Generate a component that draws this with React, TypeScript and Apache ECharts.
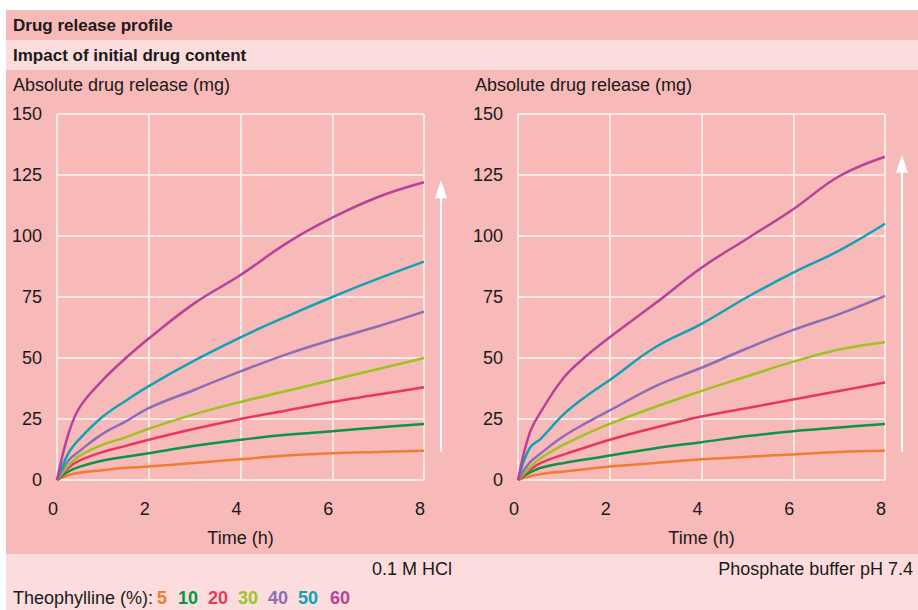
import React, { useEffect, useRef } from "react";
import * as echarts from "echarts";

const TIMES = [0, 0.25, 0.5, 1, 1.5, 2, 3, 4, 5, 6, 7, 8];
const CONTENTS = ["5", "10", "20", "30", "40", "50", "60"];
const COLORS = ["#f07b32", "#0b9447", "#e8375b", "#9dc41e", "#8d6db5", "#11a2b5", "#b7429a"];

// 0.1 M HCl
const HCL_5 = [0, 2, 3, 4, 5, 5.5, 7, 8.5, 10, 11, 11.5, 12];
const HCL_10 = [0, 3.5, 5.5, 8, 9.5, 11, 14, 16.5, 18.5, 20, 21.5, 23];
const HCL_20 = [0, 5, 8, 11.5, 14, 16.5, 21, 25, 28.5, 32, 35, 38];
const HCL_30 = [0, 6, 10, 14.5, 17.5, 21, 27, 32, 36.5, 41, 45.5, 50];
const HCL_40 = [0, 8, 12, 19, 24, 29.5, 37, 44.5, 51.5, 57.5, 63, 69];
const HCL_50 = [0, 11, 17, 26, 32.5, 38.5, 49, 58.5, 67, 75, 82.5, 89.5];
const HCL_60 = [0, 19, 30, 41, 50, 58, 72.5, 84, 97, 107.5, 116, 122];

// Phosphate buffer pH 7.4
const PBS_5 = [0, 1.5, 2.5, 3.5, 4.5, 5.5, 7, 8.5, 9.5, 10.5, 11.5, 12];
const PBS_10 = [0, 3, 5, 7, 8.5, 10, 13, 15.5, 18, 20, 21.5, 23];
const PBS_20 = [0, 4, 7, 10.5, 13.5, 16.5, 21.5, 26, 29.5, 33, 36.5, 40];
const PBS_30 = [0, 5, 9, 14.5, 19, 23, 30, 36.5, 42.5, 48.5, 53.5, 56.5];
const PBS_40 = [0, 7, 11, 18, 23.5, 28.5, 38.5, 46, 54, 61.5, 68, 75.5];
const PBS_50 = [0, 13, 17, 27, 34.5, 41, 54.5, 64, 75, 85, 94, 105];
const PBS_60 = [0, 19, 28, 42, 51, 58.5, 72.5, 87, 99, 111, 124.5, 132.5];

const HCL = [HCL_5, HCL_10, HCL_20, HCL_30, HCL_40, HCL_50, HCL_60];
const PBS = [PBS_5, PBS_10, PBS_20, PBS_30, PBS_40, PBS_50, PBS_60];

const X_TICKS = { min: 0, max: 8, interval: 2 };
const Y_TICKS = { min: 0, max: 150, interval: 25 };

const TITLE = "Drug release profile";
const SUBTITLE = "Impact of initial drug content";
const Y_NAME = "Absolute drug release (mg)";
const X_NAME = "Time (h)";
const PANEL_NAMES = ["0.1 M HCl", "Phosphate buffer pH 7.4"];
const LEGEND_TITLE = "Theophylline (%):";

const FONT = "'Liberation Sans', Arial, sans-serif";
const DARK = "#f8b9b9";
const LIGHT = "#fddcdd";
const GRIDLINE = "#fde8e8";
const INK = "#1a1a1a";

export default function App() {
  const ref = useRef<HTMLDivElement>(null);

  useEffect(() => {
    if (!ref.current) return;
    const chart = echarts.init(ref.current, null, { renderer: "svg" });

    const grids = [
      { left: 57, right: 494, top: 114, bottom: 130 },
      { left: 518, right: 33, top: 114, bottom: 130 },
    ];

    const xAxes = grids.map((_, i) => ({
      type: "value",
      gridIndex: i,
      ...X_TICKS,
      name: X_NAME,
      nameLocation: "middle",
      nameGap: 49,
      nameTextStyle: { fontSize: 18, color: INK, fontFamily: FONT },
      axisLine: { show: false },
      axisTick: { show: false },
      axisLabel: { fontSize: 18, color: INK, fontFamily: FONT, margin: 20, padding: [0, 8, 0, 0] },
      splitLine: { show: true, lineStyle: { color: GRIDLINE, width: 2 } },
    }));
    const yAxes = grids.map((_, i) => ({
      type: "value",
      gridIndex: i,
      ...Y_TICKS,
      axisLine: { show: false },
      axisTick: { show: false },
      axisLabel: { fontSize: 18, color: INK, fontFamily: FONT, margin: 15 },
      splitLine: { show: true, lineStyle: { color: GRIDLINE, width: 2 } },
    }));

    const series: any[] = [];
    [HCL, PBS].forEach((set, gi) => {
      set.forEach((vals, k) => {
        series.push({
          type: "line",
          name: CONTENTS[k],
          xAxisIndex: gi,
          yAxisIndex: gi,
          data: TIMES.map((t, j) => [t, vals[j]]),
          smooth: 0.4,
          showSymbol: false,
          lineStyle: { color: COLORS[k], width: 2.5 },
          itemStyle: { color: COLORS[k] },
          z: 3,
        });
      });
    });

    const baseGraphic: any[] = [
      { type: "rect", id: "bg1", z: -100, silent: true, shape: { x: 6, y: 10, width: 912, height: 30 }, style: { fill: DARK } },
      { type: "rect", id: "bg2", z: -100, silent: true, shape: { x: 6, y: 40, width: 912, height: 30 }, style: { fill: LIGHT } },
      { type: "rect", id: "bg3", z: -100, silent: true, shape: { x: 6, y: 70, width: 912, height: 484 }, style: { fill: DARK } },
      { type: "rect", id: "bg4", z: -100, silent: true, shape: { x: 6, y: 554, width: 912, height: 56 }, style: { fill: LIGHT } },
      { type: "text", id: "t1", x: 13, y: 25, style: { text: TITLE, fontSize: 17, fontWeight: "bold", fill: INK, fontFamily: FONT, verticalAlign: "middle" } },
      { type: "text", id: "t2", x: 13, y: 55, style: { text: SUBTITLE, fontSize: 17, fontWeight: "bold", fill: INK, fontFamily: FONT, verticalAlign: "middle" } },
      { type: "text", id: "yn1", x: 13, y: 85, style: { text: Y_NAME, fontSize: 18, fill: INK, fontFamily: FONT, verticalAlign: "middle" } },
      { type: "text", id: "yn2", x: 475, y: 85, style: { text: Y_NAME, fontSize: 18, fill: INK, fontFamily: FONT, verticalAlign: "middle" } },
      { type: "text", id: "pn1", x: 452, y: 569, style: { text: PANEL_NAMES[0], fontSize: 18, fill: INK, fontFamily: FONT, align: "right", verticalAlign: "middle" } },
      { type: "text", id: "pn2", x: 913, y: 569, style: { text: PANEL_NAMES[1], fontSize: 18, fill: INK, fontFamily: FONT, align: "right", verticalAlign: "middle" } },
      { type: "text", id: "lt", x: 13, y: 598, style: { text: LEGEND_TITLE, fontSize: 18, fill: INK, fontFamily: FONT, verticalAlign: "middle" } },
    ];
    const LEGEND_X = [157, 178, 208, 238, 268, 298, 330];
    CONTENTS.forEach((c, k) => {
      baseGraphic.push({
        type: "text",
        id: "lg" + k,
        x: LEGEND_X[k],
        y: 598,
        style: { text: c, fontSize: 18, fontWeight: "bold", fill: COLORS[k], fontFamily: FONT, verticalAlign: "middle" },
      });
    });

    chart.setOption({
      animation: false,
      textStyle: { fontFamily: FONT },
      grid: grids,
      xAxis: xAxes,
      yAxis: yAxes,
      series,
      graphic: { elements: baseGraphic },
    });

    // Arrows: span from the lowest to the highest end value in each panel
    const arrows: any[] = [];
    [HCL, PBS].forEach((set, gi) => {
      const ends = set.map((v) => v[v.length - 1]);
      const lo = chart.convertToPixel({ gridIndex: gi } as any, [8, Math.min(...ends)]) as number[];
      const hi = chart.convertToPixel({ gridIndex: gi } as any, [8, Math.max(...ends)]) as number[];
      const x = lo[0] + 17;
      const tip = hi[1] - 2;
      arrows.push({
        type: "line",
        id: "as" + gi,
        z: 5,
        shape: { x1: x, y1: lo[1] + 1, x2: x, y2: tip + 16 },
        style: { stroke: "#ffffff", lineWidth: 2 },
      });
      arrows.push({
        type: "polygon",
        id: "ah" + gi,
        z: 5,
        shape: { points: [[x, tip], [x - 6, tip + 18], [x + 6, tip + 18]] },
        style: { fill: "#ffffff" },
      });
    });
    chart.setOption({ graphic: { elements: baseGraphic.concat(arrows) } });

    return () => chart.dispose();
  }, []);

  return (
    <div
      ref={ref}
      style={{ position: "absolute", left: 0, top: 0, width: 918, height: 610, background: "#ffffff" }}
    />
  );
}
